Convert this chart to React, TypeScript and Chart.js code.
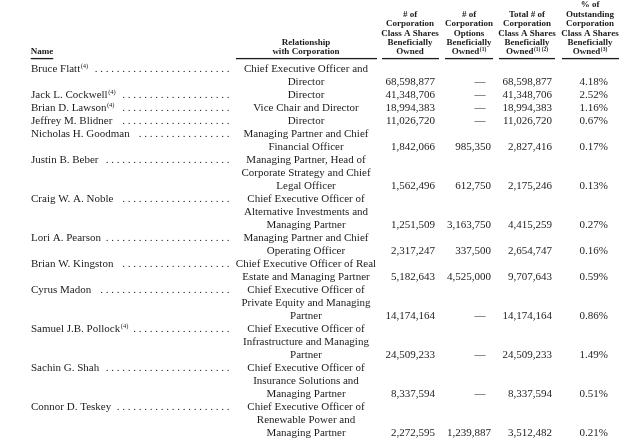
import { useEffect, useRef } from "react";
import { Chart, registerables } from "chart.js";

Chart.register(...registerables);

// ---------- data ----------
const names = [
  "Bruce Flatt",
  "Jack L. Cockwell",
  "Brian D. Lawson",
  "Jeffrey M. Blidner",
  "Nicholas H. Goodman",
  "Justin B. Beber",
  "Craig W. A. Noble",
  "Lori A. Pearson",
  "Brian W. Kingston",
  "Cyrus Madon",
  "Samuel J.B. Pollock",
  "Sachin G. Shah",
  "Connor D. Teskey",
];
const nameNotes = ["(4)", "(4)", "(4)", "", "", "", "", "", "", "", "(4)", "", ""];
const relationships = [
  ["Chief Executive Officer and", "Director"],
  ["Director"],
  ["Vice Chair and Director"],
  ["Director"],
  ["Managing Partner and Chief", "Financial Officer"],
  ["Managing Partner, Head of", "Corporate Strategy and Chief", "Legal Officer"],
  ["Chief Executive Officer of", "Alternative Investments and", "Managing Partner"],
  ["Managing Partner and Chief", "Operating Officer"],
  ["Chief Executive Officer of Real", "Estate and Managing Partner"],
  ["Chief Executive Officer of", "Private Equity and Managing", "Partner"],
  ["Chief Executive Officer of", "Infrastructure and Managing", "Partner"],
  ["Chief Executive Officer of", "Insurance Solutions and", "Managing Partner"],
  ["Chief Executive Officer of", "Renewable Power and", "Managing Partner"],
];
const sharesOwned = [68598877, 41348706, 18994383, 11026720, 1842066, 1562496, 1251509, 2317247, 5182643, 14174164, 24509233, 8337594, 2272595];
const optionsOwned: (number | null)[] = [null, null, null, null, 985350, 612750, 3163750, 337500, 4525000, null, null, null, 1239887];
const totalOwned = [68598877, 41348706, 18994383, 11026720, 2827416, 2175246, 4415259, 2654747, 9707643, 14174164, 24509233, 8337594, 3512482];
const pctOwned = [4.18, 2.52, 1.16, 0.67, 0.17, 0.13, 0.27, 0.16, 0.59, 0.86, 1.49, 0.51, 0.21];

const colHeaders = [
  ["Name"],
  ["Relationship", "with Corporation"],
  ["# of", "Corporation", "Class A Shares", "Beneficially", "Owned"],
  ["# of", "Corporation", "Options", "Beneficially", "Owned"],
  ["Total # of", "Corporation", "Class A Shares", "Beneficially", "Owned"],
  ["% of", "Outstanding", "Corporation", "Class A Shares", "Beneficially", "Owned"],
];
const headerNotes = ["", "", "", "(1)", "(1) (2)", "(3)"];

// ---------- layout / style ----------
const W = 640;
const H = 448;
const TEXT = "#1c1c1c";
const SERIF = "'Liberation Serif', 'Times New Roman', serif";
const BODY_FONT = `11px ${SERIF}`;
const NOTE_FONT = `6.5px ${SERIF}`;
const HEAD_FONT = `bold 9px ${SERIF}`;
const HEAD_NOTE_FONT = `bold 5.5px ${SERIF}`;
const FIRST_LINE_PX = 69; // pixel centre of body line 0
const LINE_PX = 13; // body line height
const HEAD_LAST = -1.31; // header last line in line units
const HEAD_STEP = 0.72; // header line step in line units
const UNDERLINE_Y = -0.85;
const DOT_END = 228;
const DOT_STEP = 5.5;
// column anchors [x, align]
const NAME_X = 31;
const REL_X = 306;
const COL_RIGHT = [435, 491, 552, 608];
const DASH_X = 480;
const HEAD_CENTER = [42, 306, 410, 469, 527, 590];
const UNDERLINES: [number, number][] = [
  [236, 377],
  [382, 439],
  [445, 493],
  [499, 555],
  [562, 619],
];

const fmt = (v: number) => v.toLocaleString("en-US");

// line index of first line of each row
const rowStart: number[] = [];
{
  let acc = 0;
  relationships.forEach((r) => {
    rowStart.push(acc);
    acc += r.length;
  });
}
const rowLast = rowStart.map((s, i) => s + relationships[i].length - 1);

function drawRich(
  ctx: CanvasRenderingContext2D,
  text: string,
  note: string,
  x: number,
  y: number,
  align: string,
  font: string,
  noteFont: string,
  noteRise: number
) {
  ctx.font = font;
  const w1 = ctx.measureText(text).width;
  ctx.font = noteFont;
  const w2 = note ? ctx.measureText(note).width + 0.5 : 0;
  const total = w1 + w2;
  let start = x;
  if (align === "center") start = x - total / 2;
  else if (align === "right") start = x - total;
  ctx.textAlign = "left";
  ctx.textBaseline = "middle";
  ctx.fillStyle = TEXT;
  ctx.font = font;
  ctx.fillText(text, start, y);
  if (note) {
    ctx.font = noteFont;
    ctx.fillText(note, start + w1 + 0.5, y - noteRise);
  }
  return start + total;
}

const tablePlugin = {
  id: "tableText",
  afterDatasetsDraw(chart: any) {
    const ctx: CanvasRenderingContext2D = chart.ctx;
    const ys = chart.scales.y;
    ctx.save();
    chart.data.datasets.forEach((ds: any, di: number) => {
      const meta = chart.getDatasetMeta(di);
      meta.data.forEach((el: any, i: number) => {
        const t = ds.texts[i];
        if (t == null) return;
        const note = ds.notes ? ds.notes[i] || "" : "";
        const isHead = ds.kind === "head";
        const end = drawRich(
          ctx,
          t,
          note,
          el.x,
          el.y,
          ds.align,
          isHead ? HEAD_FONT : BODY_FONT,
          isHead ? HEAD_NOTE_FONT : NOTE_FONT,
          isHead ? 2.5 : 3
        );
        if (ds.kind === "name") {
          ctx.font = BODY_FONT;
          ctx.textAlign = "center";
          let x = DOT_END;
          const xs: number[] = [];
          while (x - 1 > end + 5) {
            xs.push(x);
            x -= DOT_STEP;
          }
          xs.forEach((dx) => ctx.fillText(".", dx, el.y));
        }
        if (ds.kind === "head" && ds.underline && i === ds.texts.length - 1) {
          ctx.font = HEAD_FONT;
          const w = ctx.measureText(t).width;
          const uy = ys.getPixelForValue(UNDERLINE_Y);
          ctx.fillStyle = TEXT;
          ctx.fillRect(el.x - w / 2, uy, w, 1.3);
        }
      });
    });
    // column underlines
    const uy = ys.getPixelForValue(UNDERLINE_Y);
    const xsScale = chart.scales.x;
    ctx.fillStyle = TEXT;
    UNDERLINES.forEach(([a, b]) => {
      const xa = xsScale.getPixelForValue(a);
      const xb = xsScale.getPixelForValue(b);
      ctx.fillRect(xa, uy, xb - xa, 1.3);
    });
    ctx.restore();
  },
};

function buildDatasets() {
  const ds: any[] = [];
  // headers
  colHeaders.forEach((lines, c) => {
    const n = lines.length;
    ds.push({
      kind: "head",
      align: "center",
      underline: c === 0,
      texts: lines,
      notes: lines.map((_, k) => (k === n - 1 ? headerNotes[c] : "")),
      data: lines.map((_, k) => ({ x: HEAD_CENTER[c], y: HEAD_LAST - (n - 1 - k) * HEAD_STEP })),
    });
  });
  // names
  ds.push({
    kind: "name",
    align: "left",
    texts: names,
    notes: nameNotes,
    data: names.map((_, i) => ({ x: NAME_X, y: rowStart[i] })),
  });
  // relationships
  const relTexts: string[] = [];
  const relPts: any[] = [];
  relationships.forEach((lines, i) =>
    lines.forEach((l, k) => {
      relTexts.push(l);
      relPts.push({ x: REL_X, y: rowStart[i] + k });
    })
  );
  ds.push({ kind: "rel", align: "center", texts: relTexts, data: relPts });
  // numeric columns
  ds.push({
    kind: "num",
    align: "right",
    texts: sharesOwned.map(fmt),
    data: sharesOwned.map((_, i) => ({ x: COL_RIGHT[0], y: rowLast[i] })),
  });
  ds.push({
    kind: "num",
    align: "center",
    texts: optionsOwned.map((v) => (v == null ? "—" : null)),
    data: optionsOwned.map((_, i) => ({ x: DASH_X, y: rowLast[i] })),
  });
  ds.push({
    kind: "num",
    align: "right",
    texts: optionsOwned.map((v) => (v == null ? null : fmt(v))),
    data: optionsOwned.map((_, i) => ({ x: COL_RIGHT[1], y: rowLast[i] })),
  });
  ds.push({
    kind: "num",
    align: "right",
    texts: totalOwned.map(fmt),
    data: totalOwned.map((_, i) => ({ x: COL_RIGHT[2], y: rowLast[i] })),
  });
  ds.push({
    kind: "num",
    align: "right",
    texts: pctOwned.map((v) => v.toFixed(2) + "%"),
    data: pctOwned.map((_, i) => ({ x: COL_RIGHT[3], y: rowLast[i] })),
  });
  return ds.map((d) => ({ ...d, pointRadius: 0, pointHoverRadius: 0, showLine: false }));
}

export default function App() {
  const ref = useRef<HTMLCanvasElement | null>(null);
  useEffect(() => {
    if (!ref.current) return;
    const chart = new Chart(ref.current, {
      type: "scatter",
      data: { datasets: buildDatasets() },
      options: {
        animation: false,
        responsive: false,
        devicePixelRatio: 1,
        events: [],
        layout: { padding: 0 },
        plugins: { legend: { display: false }, tooltip: { enabled: false } },
        scales: {
          x: { type: "linear", display: false, min: 0, max: W },
          y: {
            type: "linear",
            display: false,
            reverse: true,
            min: -FIRST_LINE_PX / LINE_PX,
            max: (H - FIRST_LINE_PX) / LINE_PX,
          },
        },
      },
      plugins: [tablePlugin],
    } as any);
    return () => chart.destroy();
  }, []);
  return (
    <div style={{ position: "fixed", left: 0, top: 0, width: W, height: H, background: "#fff" }}>
      <canvas ref={ref} width={W} height={H} style={{ width: W, height: H, display: "block" }} />
    </div>
  );
}
